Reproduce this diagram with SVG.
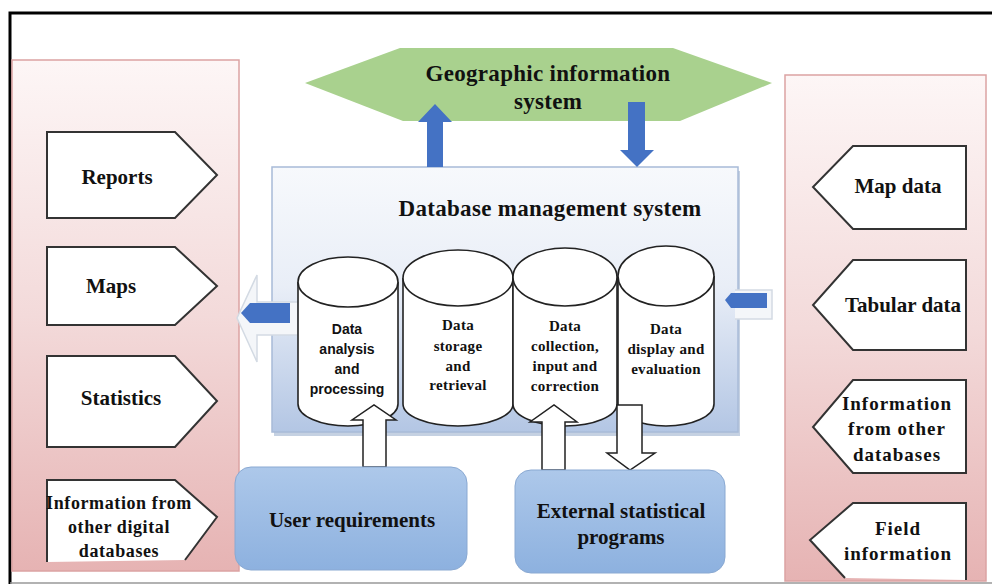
<svg xmlns="http://www.w3.org/2000/svg" width="992" height="586" viewBox="0 0 992 586">
<defs>
<linearGradient id="pink" x1="0" y1="0" x2="0" y2="1">
<stop offset="0" stop-color="#fdf6f6"/><stop offset="0.5" stop-color="#f3dada"/><stop offset="1" stop-color="#e6b3b3"/>
</linearGradient>
<linearGradient id="dbms" x1="0" y1="0" x2="0" y2="1">
<stop offset="0" stop-color="#f7f9fc"/><stop offset="0.45" stop-color="#e9eef7"/><stop offset="1" stop-color="#b3c6e4"/>
</linearGradient>
<linearGradient id="bluebox" x1="0" y1="0" x2="0" y2="1">
<stop offset="0" stop-color="#adc8ea"/><stop offset="1" stop-color="#8db1df"/>
</linearGradient>
<style>
.t{font-family:"Liberation Serif","Times New Roman",serif;font-weight:bold;fill:#111;text-anchor:middle}
.s{font-family:"Liberation Sans",Arial,sans-serif;font-weight:bold;fill:#111;text-anchor:middle;font-size:14px}
.pent{fill:#fff;stroke:#333;stroke-width:2}
.cyl{fill:#fff;stroke:#222;stroke-width:1.6}
.barrow{fill:#4472c4}
.warrow{fill:#fff;stroke:#222;stroke-width:1.5}
</style>
</defs>
<rect x="0" y="0" width="992" height="586" fill="#fff"/>
<path d="M10,584 L10,13 L992,13" fill="none" stroke="#000" stroke-width="3"/>
<line x1="10" y1="583" x2="992" y2="583" stroke="#999" stroke-width="1.5"/>

<g id="left-panel">
<rect x="12" y="60" width="227" height="511" fill="url(#pink)" stroke="#dba3a3" stroke-width="1.5"/>
</g>
<g id="right-panel">
<rect x="785" y="75" width="201" height="506" fill="url(#pink)" stroke="#dba3a3" stroke-width="1.5"/>
</g>

<g id="gis">
<polygon points="305,83 400,48 673,48 772,83 680,121 403,121" fill="#a9d18e"/>
<text class="t" x="548" y="81" font-size="23" letter-spacing="0.3">Geographic information</text>
<text class="t" x="548" y="109" font-size="23" letter-spacing="0.3">system</text>
</g>

<g id="dbms">
<rect x="274" y="171" width="466" height="265" fill="#9fb3cf" opacity="0.6"/>
<rect x="272" y="167" width="466" height="265" fill="url(#dbms)" stroke="#a8bbd8" stroke-width="1.5"/>
<text class="t" x="550" y="216" font-size="23" letter-spacing="0.3">Database management system</text>
</g>

<g id="left-arrow">
<path d="M237,318 L257,275 L257,302 L298,302 L298,335 L257,335 L257,362 Z" fill="#f4f6f9" stroke="#d3dae3" stroke-width="1.5"/>
<polygon class="barrow" points="241,313 250,303 290,303 290,323 250,323"/>
</g>
<g id="right-arrow">
<path d="M735,290 L772,290 L772,319 L735,319" fill="#f4f6f9" stroke="#d3dae3" stroke-width="1.5"/>
<polygon class="barrow" points="725,300 731,293 767,293 767,308 731,308"/>
</g>

<g id="cyl-analysis">
<path class="cyl" d="M298,282 L298,404 A50,22 0 0 0 398,404 L398,282"/>
<ellipse class="cyl" cx="348" cy="282" rx="50" ry="25"/>
<text class="s" x="347" y="334">Data</text>
<text class="s" x="347" y="354">analysis</text>
<text class="s" x="347" y="374">and</text>
<text class="s" x="347" y="394">processing</text>
</g>
<g id="cyl-storage">
<path class="cyl" d="M403,278 L403,404 A55,22 0 0 0 513,404 L513,278"/>
<ellipse class="cyl" cx="458" cy="278" rx="55" ry="28"/>
<text class="t" x="458" y="330" font-size="15" letter-spacing="0.3">Data</text>
<text class="t" x="458" y="351" font-size="15" letter-spacing="0.3">storage</text>
<text class="t" x="458" y="371" font-size="15" letter-spacing="0.3">and</text>
<text class="t" x="458" y="390" font-size="15" letter-spacing="0.3">retrieval</text>
</g>
<g id="cyl-collection">
<path class="cyl" d="M513,277 L513,404 A52,22 0 0 0 617,404 L617,277"/>
<ellipse class="cyl" cx="565" cy="277" rx="52" ry="29"/>
<text class="t" x="565" y="331" font-size="15" letter-spacing="0.3">Data</text>
<text class="t" x="565" y="351" font-size="15" letter-spacing="0.3">collection,</text>
<text class="t" x="565" y="371" font-size="15" letter-spacing="0.3">input and</text>
<text class="t" x="565" y="391" font-size="15" letter-spacing="0.3">correction</text>
</g>
<g id="cyl-display">
<path class="cyl" d="M618,276 L618,404 A48,22 0 0 0 714,404 L714,276"/>
<ellipse class="cyl" cx="666" cy="276" rx="48" ry="30"/>
<text class="t" x="666" y="334" font-size="15" letter-spacing="0.3">Data</text>
<text class="t" x="666" y="354" font-size="15" letter-spacing="0.3">display and</text>
<text class="t" x="666" y="374" font-size="15" letter-spacing="0.3">evaluation</text>
</g>

<g id="connectors">
<polygon class="barrow" points="427,167 427,122 418,122 435,104 452,122 443,122 443,167"/>
<polygon class="barrow" points="628,102 645,102 645,150 654,150 637,167 620,150 628,150"/>
<polygon class="warrow" points="363,467 363,420 352,420 374,405 396,420 386,420 386,467"/>
<polygon class="warrow" points="542,470 542,422 530,422 554,405 577,422 565,422 565,470"/>
<polygon class="warrow" points="617,405 642,405 642,453 655,453 630,470 607,453 617,453"/>
</g>

<g id="user-req">
<rect x="235" y="467" width="232" height="103" rx="16" fill="url(#bluebox)" stroke="#8aa9d2" stroke-width="1"/>
<text class="t" x="352" y="527" font-size="21">User requirements</text>
</g>
<g id="ext-stat">
<rect x="515" y="470" width="210" height="103" rx="16" fill="url(#bluebox)" stroke="#8aa9d2" stroke-width="1"/>
<text class="t" x="621" y="518" font-size="21">External statistical</text>
<text class="t" x="621" y="544" font-size="21">programs</text>
</g>

<g id="reports">
<polygon class="pent" points="47,132 175,132 217,175 175,218 47,218"/>
<text class="t" x="117" y="184" font-size="21">Reports</text>
</g>
<g id="maps">
<polygon class="pent" points="47,247 175,247 217,286 175,325 47,325"/>
<text class="t" x="111" y="293" font-size="21">Maps</text>
</g>
<g id="statistics">
<polygon class="pent" points="47,356 175,356 217,401 175,447 47,447"/>
<text class="t" x="121" y="405" font-size="21">Statistics</text>
</g>
<g id="info-digital">
<path d="M47,562 L47,480 L175,480 L217,517 L185,560 Z" fill="#fff"/>
<path d="M47,562 L47,480 L175,480 L217,517 L185,560" fill="none" stroke="#333" stroke-width="2"/>
<text class="t" x="119" y="509" font-size="18" letter-spacing="0.6">Information from</text>
<text class="t" x="119" y="533" font-size="18" letter-spacing="0.6">other digital</text>
<text class="t" x="119" y="557" font-size="18" letter-spacing="0.6">databases</text>
</g>

<g id="map-data">
<polygon class="pent" points="966,146 853,146 813,187 853,229 966,229"/>
<text class="t" x="898" y="193" font-size="21">Map data</text>
</g>
<g id="tabular-data">
<polygon class="pent" points="966,260 853,260 813,305 853,350 966,350"/>
<text class="t" x="903" y="312" font-size="21">Tabular data</text>
</g>
<g id="info-other">
<polygon class="pent" points="966,380 853,380 813,427 853,473 966,473"/>
<text class="t" x="897" y="410" font-size="19" letter-spacing="1">Information</text>
<text class="t" x="897" y="435" font-size="19" letter-spacing="1">from other</text>
<text class="t" x="897" y="461" font-size="19" letter-spacing="1">databases</text>
</g>
<g id="field-info">
<path d="M966,580 L966,503 L853,503 L810,540 L845,578 Z" fill="#fff"/>
<path d="M966,580 L966,503 L853,503 L810,540 L845,578" fill="none" stroke="#333" stroke-width="2"/>
<text class="t" x="898" y="535" font-size="19" letter-spacing="1">Field</text>
<text class="t" x="898" y="560" font-size="19" letter-spacing="1">information</text>
</g>
</svg>
